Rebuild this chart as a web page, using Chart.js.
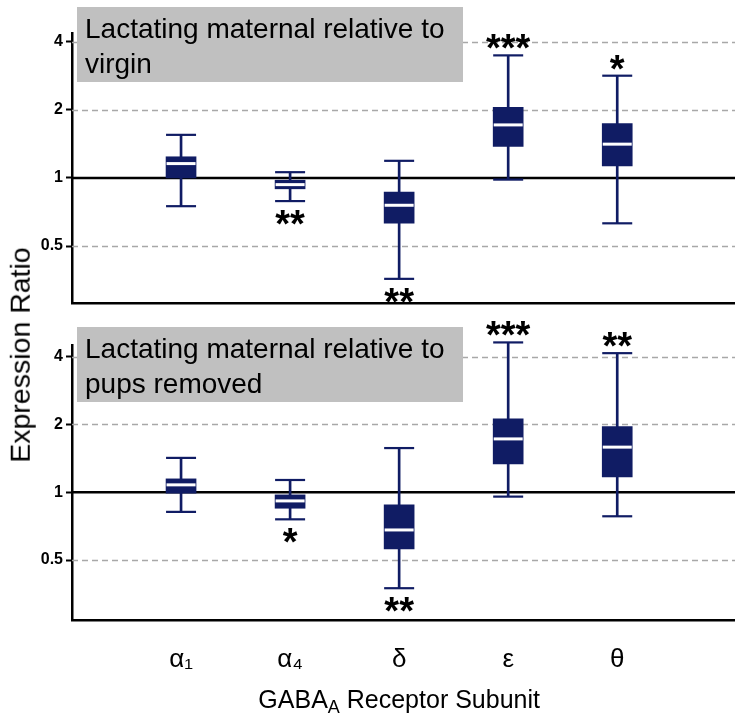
<!DOCTYPE html>
<html>
<head>
<meta charset="utf-8">
<script src="https://cdn.jsdelivr.net/npm/chart.js@4/dist/chart.umd.min.js"></script>
<style>
  html, body { margin: 0; padding: 0; background: #fff; }
  body { width: 735px; height: 719px; position: relative; overflow: hidden; font-family: "Liberation Sans", Arial, sans-serif; }
  canvas { position: absolute; left: 0; }
  #c1 { top: 0; }
  #c2 { top: 320px; }
  #ytitle { position: absolute; left: 20px; top: 355px; transform: translate(-50%, -50%) rotate(-90deg); font-size: 28.5px; color: #000; white-space: nowrap; line-height: 1; }
</style>
</head>
<body>
<canvas id="c1" width="735" height="320"></canvas>
<canvas id="c2" width="735" height="399"></canvas>
<div id="ytitle">Expression Ratio</div>
<script>
// ---- data ----
const categories = ['α₁', 'α₄', 'δ', 'ε', 'θ'];
const yTickValues = [0.5, 1, 2, 4];
const dashedGridValues = [0.5, 2, 4];
const referenceValue = 1;

// Panel 1: Lactating maternal relative to virgin
const p1Min    = [0.75, 0.79, 0.358, 0.983, 0.63];
const p1Q1     = [1.00, 0.895, 0.631, 1.378, 1.13];
const p1Median = [1.157, 0.934, 0.757, 1.715, 1.41];
const p1Q3     = [1.24, 0.977, 0.866, 2.05, 1.74];
const p1Max    = [1.55, 1.06, 1.19, 3.48, 2.83];
const p1Sig    = ['', '**', '**', '***', '*'];
const p1SigPos = ['', 'below', 'below', 'above', 'above'];
const p1Label  = ['Lactating maternal relative to', 'virgin'];

// Panel 2: Lactating maternal relative to pups removed
const p2Min    = [0.818, 0.758, 0.375, 0.956, 0.782];
const p2Q1     = [0.99, 0.849, 0.56, 1.335, 1.17];
const p2Median = [1.078, 0.915, 0.68, 1.724, 1.585];
const p2Q3     = [1.146, 0.973, 0.878, 2.115, 1.956];
const p2Max    = [1.42, 1.133, 1.57, 4.62, 4.14];
const p2Sig    = ['', '*', '**', '***', '**'];
const p2SigPos = ['', 'below', 'below', 'above', 'above'];
const p2Label  = ['Lactating maternal relative to', 'pups removed'];

const xTitleMain = 'GABA';
const xTitleSub = 'A';
const xTitleRest = ' Receptor Subunit';

// ---- styles ----
const NAVY = '#101c64';
const FONT = '"Liberation Sans", Arial, sans-serif';

function makePanel(canvasId, d, cfg) {
  const xPos = categories.map((_, i) => i + 1);
  const panelPlugin = {
    id: 'panel_' + canvasId,
    beforeDatasetsDraw(chart) {
      const {ctx, chartArea} = chart;
      const ys = chart.scales.y;
      ctx.save();
      ctx.lineWidth = 1.5;
      ctx.strokeStyle = '#a8a8a8';
      ctx.setLineDash([6, 4]);
      dashedGridValues.forEach(v => {
        const y = Math.round(ys.getPixelForValue(v)) + 0.5;
        ctx.beginPath(); ctx.moveTo(chartArea.left, y); ctx.lineTo(chartArea.right, y); ctx.stroke();
      });
      ctx.setLineDash([]);
      ctx.lineWidth = 2.5;
      ctx.strokeStyle = '#000';
      const yr = ys.getPixelForValue(referenceValue);
      ctx.beginPath(); ctx.moveTo(chartArea.left, yr); ctx.lineTo(chartArea.right, yr); ctx.stroke();
      ctx.restore();
    },
    afterDatasetsDraw(chart) {
      const {ctx} = chart;
      const xs = chart.scales.x, ys = chart.scales.y;
      ctx.save();
      // annotation box
      ctx.fillStyle = '#c0c0c0';
      ctx.fillRect(77, 7, 386, 75);
      ctx.fillStyle = '#000';
      ctx.font = '28px ' + FONT;
      ctx.textBaseline = 'alphabetic';
      ctx.textAlign = 'left';
      ctx.fillText(d.label[0], 85, 38);
      ctx.fillText(d.label[1], 85, 73);
      // significance stars
      const fs = 38;
      ctx.font = 'bold ' + fs + 'px ' + FONT;
      ctx.textAlign = 'center';
      d.sig.forEach((s, i) => {
        if (!s) return;
        const x = xs.getPixelForValue(i + 1);
        let cy;
        if (d.sigPos[i] === 'above') cy = ys.getPixelForValue(d.max[i]) - 16;
        else cy = ys.getPixelForValue(d.min[i]) + 14;
        ctx.fillText(s, x, cy + 0.58 * fs);
      });
      if (cfg.showXTitle) {
        const big = '25px ' + FONT, small = '18px ' + FONT;
        ctx.font = big; const w1 = ctx.measureText(xTitleMain).width; const w3 = ctx.measureText(xTitleRest).width;
        ctx.font = small; const w2 = ctx.measureText(xTitleSub).width;
        const total = w1 + w2 + w3;
        const cx = xs.getPixelForValue(3);
        let x0 = cx - total / 2;
        const base = 388;
        ctx.textAlign = 'left';
        ctx.font = big; ctx.fillText(xTitleMain, x0, base);
        ctx.font = small; ctx.fillText(xTitleSub, x0 + w1, base + 5);
        ctx.font = big; ctx.fillText(xTitleRest, x0 + w1 + w2, base);
      }
      ctx.restore();
    }
  };

  return new Chart(document.getElementById(canvasId), {
    type: 'bar',
    data: {
      datasets: [
        {
          type: 'bar', label: 'whisker', grouped: false, order: 4, clip: false,
          data: xPos.map((x, i) => ({x: x, y: [d.min[i], d.max[i]]})),
          backgroundColor: NAVY, borderWidth: 0, barThickness: 2
        },
        {
          type: 'bar', label: 'box', grouped: false, order: 3, clip: false,
          data: xPos.map((x, i) => ({x: x, y: [d.q1[i], d.q3[i]]})),
          backgroundColor: NAVY, borderWidth: 0, barThickness: 30
        },
        {
          type: 'scatter', label: 'caps', order: 2, clip: false,
          data: xPos.flatMap((x, i) => [{x: x, y: d.min[i]}, {x: x, y: d.max[i]}]),
          pointStyle: 'line', pointRadius: 15, borderColor: NAVY, borderWidth: 2.2, backgroundColor: NAVY
        },
        {
          type: 'scatter', label: 'median', order: 1, clip: false,
          data: xPos.map((x, i) => ({x: x, y: d.median[i]})),
          pointStyle: 'line', pointRadius: 14.5, borderColor: '#ffffff', borderWidth: 3, backgroundColor: '#ffffff'
        }
      ]
    },
    options: {
      responsive: false,
      animation: false,
      events: [],
      layout: { autoPadding: false, padding: { top: cfg.top, left: 0, right: 0, bottom: 0 } },
      plugins: { legend: { display: false }, tooltip: { enabled: false }, title: { display: false } },
      scales: {
        x: {
          type: 'linear', min: 0, max: 6.08, offset: false,
          afterBuildTicks: s => { s.ticks = xPos.map(v => ({value: v})); },
          afterFit: s => { s.height = cfg.xHeight; },
          grid: { display: false, drawTicks: false, tickLength: 0 },
          border: { display: true, color: '#000', width: 2.5 },
          ticks: {
            display: cfg.showXTicks,
            autoSkip: false, maxRotation: 0,
            padding: 24,
            color: '#000',
            font: { family: FONT, size: 26 },
            callback: v => categories[v - 1] || ''
          }
        },
        y: {
          type: 'logarithmic', min: cfg.yMin, max: cfg.yMax,
          afterBuildTicks: s => { s.ticks = yTickValues.map(v => ({value: v})); },
          afterFit: s => { s.width = 72; },
          grid: { display: true, drawOnChartArea: false, drawTicks: true, tickLength: 6, tickColor: '#000', tickWidth: 2 },
          border: { display: true, color: '#000', width: 2.5 },
          ticks: {
            padding: 3, color: '#000',
            font: { family: FONT, size: 16, weight: 'bold' },
            callback: v => String(v)
          }
        }
      }
    },
    plugins: [panelPlugin]
  });
}

makePanel('c1', {
  min: p1Min, q1: p1Q1, median: p1Median, q3: p1Q3, max: p1Max,
  sig: p1Sig, sigPos: p1SigPos, label: p1Label
}, { top: 33, xHeight: 17, yMin: 0.28, yMax: 4.37, showXTicks: false, showXTitle: false });

makePanel('c2', {
  min: p2Min, q1: p2Q1, median: p2Median, q3: p2Q3, max: p2Max,
  sig: p2Sig, sigPos: p2SigPos, label: p2Label
}, { top: 25, xHeight: 99, yMin: 0.271, yMax: 4.5, showXTicks: true, showXTitle: true });
</script>
</body>
</html>
